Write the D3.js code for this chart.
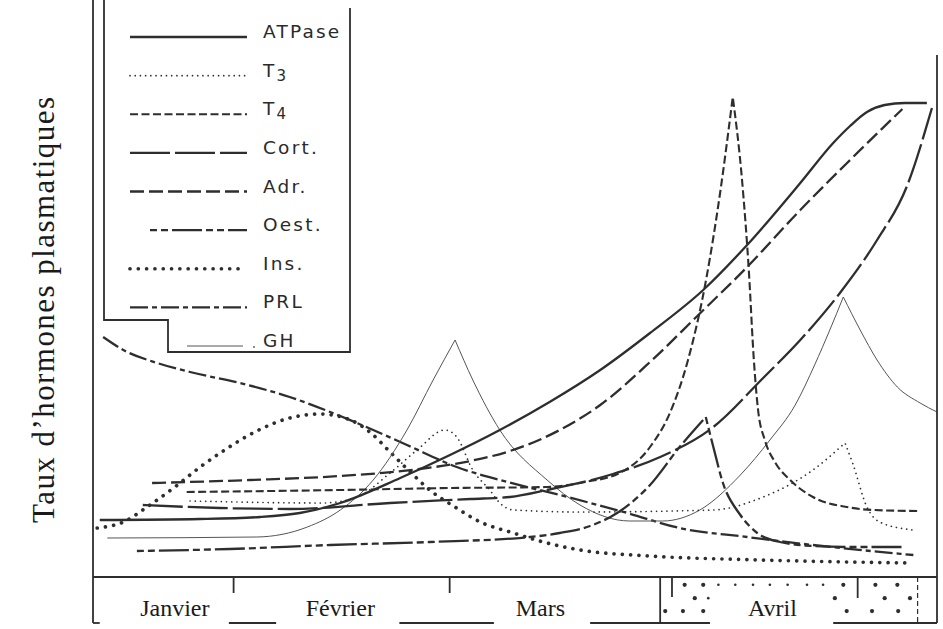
<!DOCTYPE html>
<html><head><meta charset="utf-8">
<script src="https://cdn.jsdelivr.net/npm/d3@7"></script>
<style>body{margin:0;background:#fff}svg{display:block}</style>
</head><body><svg id="c" width="943" height="629"></svg>
<script>
// ---- data (x: time units 0-100 across Jan-Apr, y: relative hormone level 0-100) ----
const atpase = [[0.8,11.4],[12.7,11.6],[19.8,12],[24.5,12.8],[29.3,14.8],[36.4,19.8],[42.3,24.4],[48.2,29.4],[54.1,35],[60.1,41.4],[66,48.8],[72.3,57.4],[77.5,66.4],[83.8,78.8],[87.7,86.8],[89.7,90.2],[91.7,93],[93.8,94.4],[96.2,94.8],[98.8,94.8]];
const t3 = [[11.5,15.2],[27.3,14.8],[31.3,16],[35.2,20.8],[38.4,25.4],[41.7,29.4],[43.1,28],[45,21.4],[47,17.4],[48.2,14.8],[49.8,13.4],[57.7,13],[73.5,13.4],[79.4,16],[85.3,21.4],[89.1,26.8],[90,22.8],[91.7,14],[93.2,11],[97.2,9.4]];
const t3Cusps = [15];
const t4 = [[11.1,17],[29.3,17.4],[42.3,17.8],[53.8,18],[58.3,19],[62.4,20.8],[66,26],[68.4,33],[70.5,43.4],[72.7,60],[74.3,76.8],[75.8,96],[76.9,79.4],[77.7,61.4],[78.3,43.4],[78.8,33.4],[79.6,27.4],[80.8,23],[82.6,19.4],[85.3,16],[89.3,14],[92.4,13.4],[98,13.2]];
const t4Cusps = [11];
const cort = [[5.9,14.4],[15,13.8],[23.3,13.6],[35.2,14.8],[44.7,15.6],[49.4,16],[53.8,17.4],[61.6,20.6],[67.2,24],[73.5,30],[79.4,39.8],[83.8,47.4],[88.5,56.8],[92.9,67.4],[96.4,78],[99.4,93.8]];
const adr = [[7,18.8],[18.6,19.4],[29.3,20.2],[38.7,21.6],[44.7,23.2],[49.4,25.2],[55.3,29.4],[60.1,34.4],[66,43],[71.6,52.2],[77.5,62],[83.8,73.4],[89.7,83.4],[95.9,93.6]];
const oest = [[5.2,5.2],[16.2,5.6],[28.1,6.4],[39.9,7],[51.8,8],[55.3,8.8],[58.9,10.2],[62.1,12.8],[66,18.4],[69.5,26],[72.6,32],[73.5,26],[74.6,19],[76.7,12.4],[78.7,8.8],[81.4,7],[85.3,6.2],[89.7,6],[96,6]];
const oestCusps = [10];
const ins = [[0.5,9.8],[3.6,11],[6.4,14],[9.7,18],[12.7,22],[15.6,25.4],[19.4,29.2],[23.3,31.8],[26.9,32.6],[30.5,31.4],[32.8,29],[35.2,25],[37.6,21],[39.9,17.4],[42.7,14.2],[45.9,11],[49.8,8.8],[53.8,6.8],[57.7,5.4],[66,4.2],[79,3.4],[96.8,2.8]];
const prl = [[1.2,48],[3.6,45.4],[7.6,42.8],[11.5,41],[17.4,38.8],[23.3,36],[28.1,33],[33.2,29.4],[37.2,26.4],[43.1,22],[49.1,19],[55.3,16.4],[63.3,12.8],[69.5,9.8],[77.5,8],[85.3,6.4],[97.2,4.4]];
const gh = [[1.7,7.8],[19.4,8],[25.4,10],[29.3,13.4],[33.2,19.4],[37.2,29.4],[40.3,39.4],[42.9,47.4],[45,39.4],[48.2,29.4],[53.8,19.4],[57.7,14.4],[63.6,11.2],[67.5,11.2],[71.9,13.4],[76.7,20.4],[80.2,27.4],[83.2,34.4],[85.5,42.4],[87.3,49.4],[88.9,56],[90.9,49.4],[92.9,43.4],[95.3,38],[98,34.8],[100,33]];
const ghCusps = [7, 20];

const legendNames = ["ATPase","T3","T4","Cort.","Adr.","Oest.","Ins.","PRL","GH"];
const months = ["Janvier","Février","Mars","Avril"];
const monthLabelX = [9.7, 29.3, 53, 80.5];
const monthTicks = [16.6, 42.2];
const yLabel = "Taux d’hormones plasmatiques";

// ---- styles ----
const ink = "#2e2e2e";
const styles = {
  "ATPase": {w:2.3, dash:null},
  "T3": {w:1.7, dash:"0.01,5.2", cap:"round"},
  "T4": {w:2.1, dash:"8,3.5"},
  "Cort.": {w:2.3, dash:"40,5"},
  "Adr.": {w:2.3, dash:"14,5"},
  "Oest.": {w:2.3, dash:"7,4,7,4,30,4"},
  "Ins.": {w:3.7, dash:"0.01,8.3", cap:"round"},
  "PRL": {w:2.3, dash:"18,4,5,4"},
  "GH": {w:1, dash:null, color:"#555"}
};
const series = [
  {name:"PRL", data:prl, cusps:[]},
  {name:"Ins.", data:ins, cusps:[]},
  {name:"GH", data:gh, cusps:ghCusps},
  {name:"T3", data:t3, cusps:t3Cusps},
  {name:"Oest.", data:oest, cusps:oestCusps},
  {name:"Cort.", data:cort, cusps:[]},
  {name:"Adr.", data:adr, cusps:[]},
  {name:"T4", data:t4, cusps:t4Cusps},
  {name:"ATPase", data:atpase, cusps:[]}
];

const svg = d3.select("#c");
const X = d3.scaleLinear().domain([0,100]).range([93,937]);
const Y = d3.scaleLinear().domain([0,100]).range([577,77]);
const boxTop = 577, boxBot = 623;

function applyStyle(sel, name){
  const s = styles[name];
  sel.attr("fill","none").attr("stroke", s.color || ink).attr("stroke-width", s.w)
     .attr("stroke-linecap", s.cap || "butt").attr("stroke-linejoin","round");
  if (s.dash) sel.attr("stroke-dasharray", s.dash);
}

// ---- curves (split at cusps so peaks stay sharp, joined as one path) ----
const line = d3.line().x(d=>X(d[0])).y(d=>Y(d[1])).curve(d3.curveMonotoneX);
series.forEach(s=>{
  const cuts = [0, ...s.cusps, s.data.length-1];
  let d = "";
  for (let i=0;i<cuts.length-1;i++){
    const p = line(s.data.slice(cuts[i], cuts[i+1]+1));
    d += (i===0 ? p : "L" + p.slice(1));
  }
  applyStyle(svg.append("path").attr("d", d), s.name);
});

// ---- frame ----
const fr = svg.append("g").attr("stroke", ink).attr("stroke-width",1.8).attr("fill","none");
fr.append("line").attr("x1",93).attr("x2",93).attr("y1",0).attr("y2",boxBot);
fr.append("line").attr("x1",937).attr("x2",937).attr("y1",55).attr("y2",boxBot);
fr.append("line").attr("x1",93).attr("x2",937).attr("y1",boxTop).attr("y2",boxTop);
fr.append("path").attr("d","M104,0 V320 H168 V352 H350 V8");

// ---- bottom month box ----
const ax = svg.append("g").attr("transform",`translate(0,${boxTop})`)
  .call(d3.axisBottom(X).tickValues(monthTicks).tickSize(16).tickFormat(""));
ax.select(".domain").remove();
ax.selectAll(".tick line").attr("stroke",ink).attr("stroke-width",1.8);

const bottomSegs = [[0,0.8],[16.1,21.7],[36.3,47.5],[58.9,73.1],[87.7,100]];
bottomSegs.forEach(s=>fr.append("line").attr("x1",X(s[0])).attr("x2",X(s[1])).attr("y1",boxBot).attr("y2",boxBot));
const avrilFull = 67.2, avrilInner = 68.6, avrilRight = 90.6, avrilDash = 97.7;
fr.append("line").attr("x1",X(avrilFull)).attr("x2",X(avrilFull)).attr("y1",boxTop).attr("y2",boxBot);
fr.append("line").attr("x1",X(avrilInner)).attr("x2",X(avrilInner)).attr("y1",boxTop).attr("y2",boxTop+20);
fr.append("line").attr("x1",X(avrilRight)).attr("x2",X(avrilRight)).attr("y1",boxTop).attr("y2",boxTop+21);
fr.append("line").attr("x1",X(avrilDash)).attr("x2",X(avrilDash)).attr("y1",boxTop).attr("y2",boxBot).attr("stroke-width",1.2).attr("stroke-dasharray","5,3");

// stipple in April
const stipBig = [[70.1,0.17],[72.3,0.17],[88.9,0.17],[92.7,0.17],[95.3,0.17],[71.3,0.46],[87.9,0.46],[93.8,0.46],[96.8,0.46],[67.8,0.74],[69.9,0.74],[72.3,0.74],[89.3,0.74],[92.3,0.74],[95.4,0.74]];
const stipSmall = [[74.1,0.17],[76.1,0.17],[78.2,0.17],[80.2,0.17],[82.3,0.17],[84.6,0.17],[86.5,0.17],[72.9,0.46]];
const bh = boxBot - boxTop;
svg.append("g").selectAll("circle").data(stipBig).join("circle")
  .attr("cx",d=>X(d[0])).attr("cy",d=>boxTop+d[1]*bh).attr("r",2.1).attr("fill",ink);
svg.append("g").selectAll("circle").data(stipSmall).join("circle")
  .attr("cx",d=>X(d[0])).attr("cy",d=>boxTop+d[1]*bh).attr("r",1.3).attr("fill",ink);

svg.append("g").selectAll("text").data(months).join("text")
  .attr("x",(d,i)=>X(monthLabelX[i])).attr("y",boxTop+39)
  .attr("text-anchor","middle").attr("font-family","'Liberation Serif','Times New Roman',serif")
  .attr("font-size",24).attr("fill","#1a1a1a").text(d=>d);

// ---- y label ----
svg.append("text").attr("transform","translate(54,310) rotate(-90)")
  .attr("text-anchor","middle").attr("font-family","'Liberation Serif','Times New Roman',serif")
  .attr("font-size",31).attr("textLength",426).attr("lengthAdjust","spacing")
  .attr("fill","#1a1a1a").text(yLabel);

// ---- legend ----
const LY = d3.scalePoint().domain(legendNames).range([37,346]);
const leg = svg.append("g");
legendNames.forEach(n=>{
  const y = LY(n);
  let x1 = 130, x2 = 247;
  if (n==="Oest.") x1 = 150;
  if (n==="Ins.") x2 = 243;
  if (n==="GH") { x1 = 187; x2 = 243; }
  applyStyle(leg.append("line").attr("x1",x1).attr("x2",x2).attr("y1",y).attr("y2",y), n);
  if (n==="GH") leg.append("circle").attr("cx",254).attr("cy",y+1).attr("r",0.9).attr("fill","#555");
  const t = leg.append("text").attr("x",263).attr("y",y+1)
    .attr("font-family","'DejaVu Sans',sans-serif").attr("font-size",18.5)
    .attr("letter-spacing",2.2).attr("fill","#2a2a2a");
  const m = n.match(/^T(\d)$/);
  if (m){ t.append("tspan").text("T"); t.append("tspan").attr("font-size",15).attr("dy",4).text(m[1]); }
  else t.text(n);
});
</script></body></html>
